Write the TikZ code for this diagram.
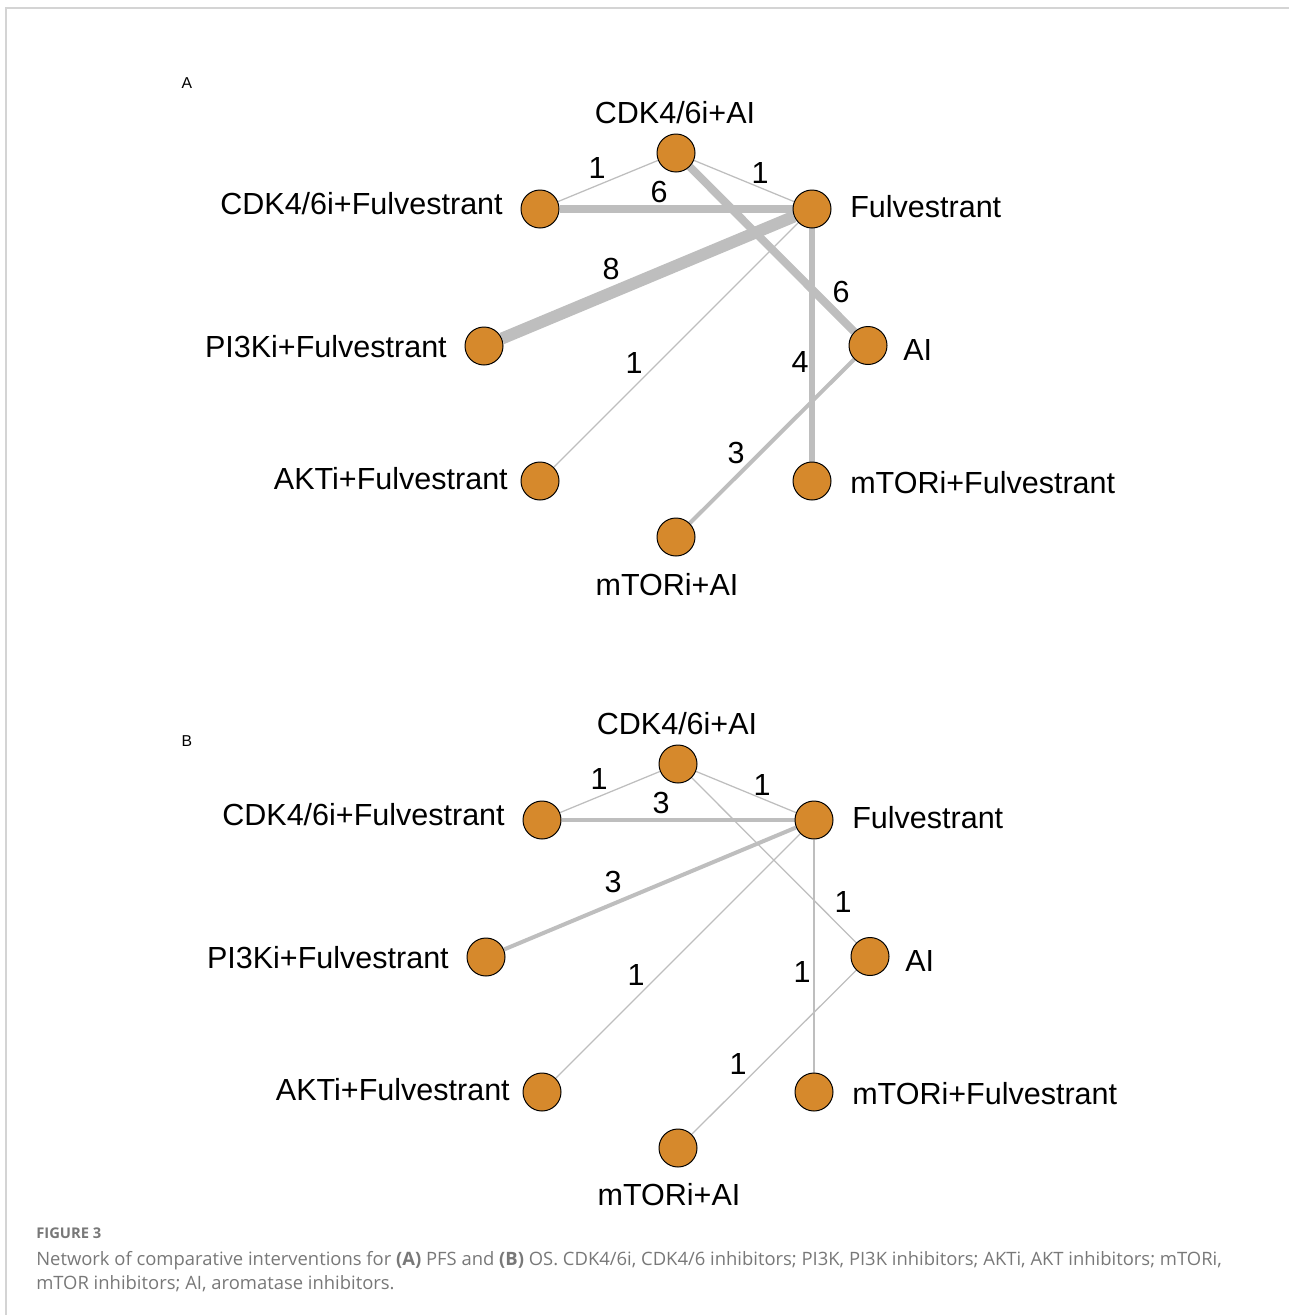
\documentclass[tikz,border=0pt]{standalone}
\usepackage{fontspec}
\setmainfont{Liberation Sans}
\newfontfamily\capfont{Open Sans}
\usetikzlibrary{positioning,backgrounds}
\definecolor{nodeorange}{RGB}{214,137,44}
\definecolor{linegray}{RGB}{190,190,190}
\definecolor{framegray}{RGB}{212,212,212}
\definecolor{capgray}{RGB}{120,120,120}

\begin{document}
\begin{tikzpicture}[
            x=0.025cm, y=-0.025cm,
            % Stili
            trt/.style={circle, draw=black, line width=0.7pt, fill=nodeorange, minimum size=0.95cm, inner sep=0pt},
            lab/.style={inner sep=0pt, text height=15.5pt, text depth=0pt, font=\fontsize{21.7pt}{25pt}\selectfont},
            num/.style={lab},
            edge/.style={draw=linegray, line width=#1},
            panel/.style={inner sep=0pt, text height=8pt, text depth=0pt, font=\fontsize{11.2pt}{13pt}\selectfont},
            caption/.style={inner sep=0pt, anchor=base west, text=capgray, font=\capfont\fontsize{13.1pt}{15pt}\selectfont}
        ]
        \useasboundingbox (0,0) rectangle (1289,1315);
        \draw[framegray, line width=1.1pt] (6,1315) -- (6,8) -- (1289,8);

        % Pannello A - trattamenti
        \node (a-tag) [panel] at (187,83) {A};
        \node (a-cdkai) [trt] at (676,153) {};
        \node (a-cdkful) [trt] at (540,209) {};
        \node (a-ful) [trt] at (812,209) {};
        \node (a-pik) [trt] at (484,346) {};
        \node (a-ai) [trt] at (868,345.5) {};
        \node (a-akt) [trt] at (540,481) {};
        \node (a-mtorful) [trt] at (812,481) {};
        \node (a-mtorai) [trt] at (676,537) {};

        \node (a-cdkai-t) [lab] at (675,112.5) {CDK4/6i+AI};
        \node (a-cdkful-t) [lab, anchor=east] at (503,203.5) {CDK4/6i+Fulvestrant};
        \node (a-ful-t) [lab, anchor=west] at (850,207) {Fulvestrant};
        \node (a-pik-t) [lab, anchor=east] at (447,346.5) {PI3Ki+Fulvestrant};
        \node (a-ai-t) [lab, anchor=west] at (903,349.5) {AI};
        \node (a-akt-t) [lab, anchor=east] at (508,478.5) {AKTi+Fulvestrant};
        \node (a-mtorful-t) [lab, anchor=west] at (850,483) {mTORi+Fulvestrant};
        \node (a-mtorai-t) [lab] at (667,585) {mTORi+AI};

        % Pannello A - confronti
        \begin{scope}[on background layer]
            \draw [edge=0.9pt] (a-cdkai) -- (a-cdkful);
            \draw [edge=0.9pt] (a-cdkai) -- (a-ful);
            \draw [edge=5.7pt] (a-cdkful) -- (a-ful);
            \draw [edge=5.7pt] (a-cdkai) -- (a-ai);
            \draw [edge=8.5pt] (a-pik) -- (a-ful);
            \draw [edge=0.9pt] (a-akt) -- (a-ful);
            \draw [edge=3.6pt] (a-ful) -- (a-mtorful);
            \draw [edge=2.85pt] (a-ai) -- (a-mtorai);
        \end{scope}

        \node (a-n1) [num] at (597,168) {1};
        \node (a-n2) [num] at (760,173) {1};
        \node (a-n3) [num] at (659,192) {6};
        \node (a-n4) [num] at (611,269) {8};
        \node (a-n5) [num] at (634,363) {1};
        \node (a-n6) [num] at (841,292) {6};
        \node (a-n7) [num] at (800,362) {4};
        \node (a-n8) [num] at (736,453) {3};

        % Pannello B - trattamenti
        \node (b-tag) [panel] at (187,741) {B};
        \node (b-cdkai) [trt] at (678,764) {};
        \node (b-cdkful) [trt] at (542,820) {};
        \node (b-ful) [trt] at (814,820) {};
        \node (b-pik) [trt] at (486,957) {};
        \node (b-ai) [trt] at (870,956.5) {};
        \node (b-akt) [trt] at (542,1092) {};
        \node (b-mtorful) [trt] at (814,1092) {};
        \node (b-mtorai) [trt] at (678,1148) {};

        \node (b-cdkai-t) [lab] at (677,723.5) {CDK4/6i+AI};
        \node (b-cdkful-t) [lab, anchor=east] at (505,814.5) {CDK4/6i+Fulvestrant};
        \node (b-ful-t) [lab, anchor=west] at (852,818) {Fulvestrant};
        \node (b-pik-t) [lab, anchor=east] at (449,957.5) {PI3Ki+Fulvestrant};
        \node (b-ai-t) [lab, anchor=west] at (905,960.5) {AI};
        \node (b-akt-t) [lab, anchor=east] at (510,1090) {AKTi+Fulvestrant};
        \node (b-mtorful-t) [lab, anchor=west] at (852,1094) {mTORi+Fulvestrant};
        \node (b-mtorai-t) [lab] at (669,1195) {mTORi+AI};

        % Pannello B - confronti
        \begin{scope}[on background layer]
            \draw [edge=0.9pt] (b-cdkai) -- (b-cdkful);
            \draw [edge=0.9pt] (b-cdkai) -- (b-ful);
            \draw [edge=2.85pt] (b-cdkful) -- (b-ful);
            \draw [edge=0.9pt] (b-cdkai) -- (b-ai);
            \draw [edge=2.85pt] (b-pik) -- (b-ful);
            \draw [edge=0.9pt] (b-akt) -- (b-ful);
            \draw [edge=0.9pt] (b-ful) -- (b-mtorful);
            \draw [edge=0.9pt] (b-ai) -- (b-mtorai);
        \end{scope}

        \node (b-n1) [num] at (599,779) {1};
        \node (b-n2) [num] at (762,785) {1};
        \node (b-n3) [num] at (661,803) {3};
        \node (b-n4) [num] at (613,882) {3};
        \node (b-n5) [num] at (636,975) {1};
        \node (b-n6) [num] at (843,902) {1};
        \node (b-n7) [num] at (802,972) {1};
        \node (b-n8) [num] at (738,1064) {1};

        % Didascalia
        \node (fig) [caption, font=\capfont\bfseries\fontsize{10.5pt}{12pt}\selectfont] at (36,1238) {FIGURE 3};
        \node (cap1) [caption] at (36,1265) {Network of comparative interventions for \textbf{(A)} PFS and \textbf{(B)} OS. CDK4/6i, CDK4/6 inhibitors; PI3K, PI3K inhibitors; AKTi, AKT inhibitors; mTORi,};
        \node (cap2) [caption] at (36,1289) {mTOR inhibitors; AI, aromatase inhibitors.};

    \end{tikzpicture}
\end{document}
